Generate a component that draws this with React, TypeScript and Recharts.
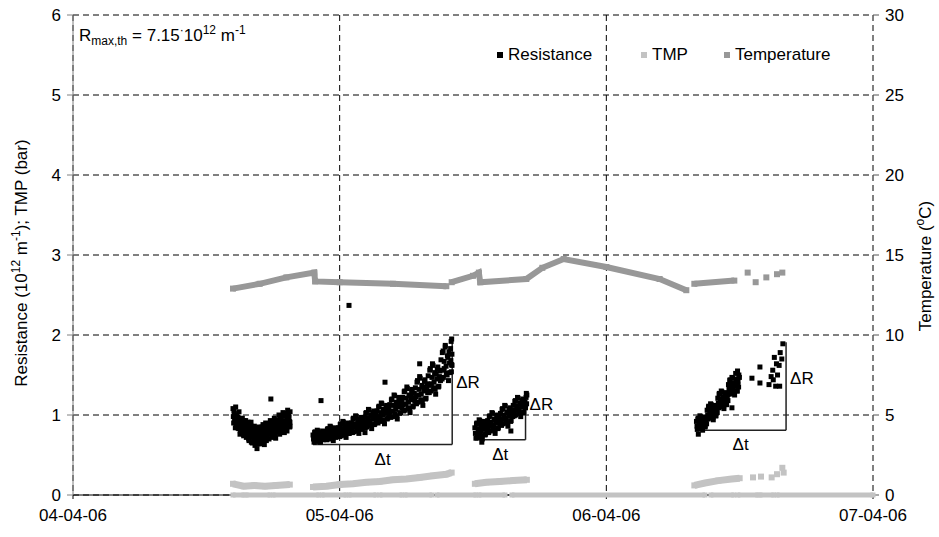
import { ScatterChart, Scatter, XAxis, YAxis, CartesianGrid, ReferenceLine, Legend } from 'recharts';

type Pt = [number, number];

// x = days since 04-04-06, y = value
const dateLabels = ['04-04-06', '05-04-06', '06-04-06', '07-04-06'];
const dayTicks = [0, 1, 2, 3];
const leftTicks = [0, 1, 2, 3, 4, 5, 6];
const rightTicks = [0, 5, 10, 15, 20, 25, 30];

// Resistance (10^12 m^-1), one array per filtration run
const resistanceRun1: Pt[] = [
  [0.600, 1.08], [0.6025, 0.90], [0.605, 1.02], [0.6075, 0.95], [0.610, 1.10], [0.6125, 0.87],
  [0.615, 0.99], [0.6175, 0.84], [0.620, 0.93], [0.6225, 1.04], [0.625, 0.88], [0.6275, 0.80],
  [0.630, 0.92], [0.6325, 0.78], [0.635, 0.96], [0.6375, 0.85], [0.640, 0.74], [0.6425, 0.89],
  [0.645, 0.80], [0.6475, 0.93], [0.650, 0.72], [0.6525, 0.86], [0.655, 0.77], [0.6575, 0.90],
  [0.660, 0.68], [0.6625, 0.84], [0.665, 0.75], [0.6675, 0.91], [0.670, 0.79], [0.6725, 0.65],
  [0.675, 0.81], [0.6775, 0.70], [0.680, 0.86], [0.6825, 0.62], [0.685, 0.76], [0.6875, 0.73],
  [0.690, 0.58], [0.6925, 0.80], [0.695, 0.69], [0.6975, 0.85], [0.700, 0.74], [0.7025, 0.64],
  [0.705, 0.82], [0.7075, 0.67], [0.710, 0.78], [0.7125, 0.88], [0.715, 0.71], [0.7175, 0.63],
  [0.720, 0.74], [0.7225, 0.90], [0.725, 0.68], [0.7275, 0.81], [0.730, 0.77], [0.7325, 0.86],
  [0.735, 0.70], [0.7375, 0.84], [0.740, 0.93], [0.7425, 0.76], [0.745, 0.81], [0.7475, 0.72],
  [0.750, 0.88], [0.7525, 0.75], [0.755, 0.96], [0.7575, 0.80], [0.760, 0.71], [0.7625, 0.85],
  [0.765, 0.79], [0.7675, 0.92], [0.770, 0.83], [0.7725, 1.00], [0.775, 0.76], [0.7775, 0.89],
  [0.780, 0.95], [0.7825, 0.81], [0.785, 0.88], [0.7875, 1.03], [0.790, 0.84], [0.7925, 0.78],
  [0.795, 0.86], [0.7975, 0.99], [0.800, 0.92], [0.8025, 0.80], [0.805, 1.06], [0.8075, 0.90],
  [0.810, 0.97], [0.8125, 0.85], [0.814, 1.04], [0.8135, 0.91],
  [0.60125, 0.98], [0.60375, 1.05], [0.60625, 0.92], [0.60875, 0.84], [0.61125, 1.00], [0.61375, 0.94],
  [0.61625, 0.90], [0.61875, 0.97], [0.62125, 0.83], [0.62375, 0.95], [0.62625, 0.76], [0.62875, 0.87],
  [0.63125, 0.84], [0.63375, 0.91], [0.63625, 0.81], [0.63875, 0.76], [0.64125, 0.93], [0.64375, 0.83],
  [0.64625, 0.87], [0.64875, 0.75], [0.65125, 0.82], [0.65375, 0.79], [0.65625, 0.91], [0.65875, 0.70],
  [0.66125, 0.80], [0.66375, 0.73], [0.66625, 0.87], [0.66875, 0.66], [0.67125, 0.76], [0.67375, 0.83],
  [0.67625, 0.72], [0.67875, 0.78], [0.68125, 0.67], [0.68375, 0.84], [0.68625, 0.70], [0.68875, 0.80],
  [0.69125, 0.74], [0.69375, 0.64], [0.69625, 0.77], [0.69875, 0.68], [0.70125, 0.82], [0.70375, 0.71],
  [0.70625, 0.75], [0.70875, 0.85], [0.71125, 0.69], [0.71375, 0.79], [0.71625, 0.74], [0.71875, 0.83],
  [0.72125, 0.79], [0.72375, 0.70], [0.72625, 0.85], [0.72875, 0.73], [0.73125, 0.89], [0.73375, 0.78],
  [0.73625, 0.82], [0.73875, 0.76], [0.74125, 0.87], [0.74375, 0.79], [0.74625, 0.92], [0.74875, 0.83],
  [0.75125, 0.79], [0.75375, 0.91], [0.75625, 0.84], [0.75875, 0.76], [0.76125, 0.89], [0.76375, 0.94],
  [0.76625, 0.86], [0.76875, 0.81], [0.77125, 0.93], [0.77375, 0.87], [0.77625, 0.96], [0.77875, 0.82],
  [0.78125, 0.89], [0.78375, 0.99], [0.78625, 0.84], [0.78875, 0.93], [0.79125, 0.87], [0.79375, 1.01],
  [0.79625, 0.92], [0.79875, 0.83], [0.80125, 1.02], [0.80375, 0.94], [0.80625, 0.88], [0.80875, 1.00],
  [0.81125, 0.92], [0.81375, 0.86],
  [0.742, 1.20], [0.930, 1.18], [1.035, 2.37],
];

const resistanceRun2: Pt[] = [
  [0.900, 0.75], [0.904, 0.66], [0.908, 0.79], [0.912, 0.71], [0.916, 0.81], [0.920, 0.68], [0.924, 0.76], [0.928, 0.66], [0.932, 0.73], [0.936, 0.80], [0.940, 0.70], [0.944, 0.78],
  [0.948, 0.79], [0.952, 0.69], [0.956, 0.83], [0.960, 0.74], [0.964, 0.86], [0.968, 0.72], [0.972, 0.81], [0.976, 0.68], [0.980, 0.77], [0.984, 0.84], [0.988, 0.73], [0.992, 0.82],
  [0.996, 0.84], [1.000, 0.73], [1.004, 0.89], [1.008, 0.79], [1.012, 0.92], [1.016, 0.76], [1.020, 0.86], [1.024, 0.72], [1.028, 0.82], [1.032, 0.90], [1.036, 0.77], [1.040, 0.87],
  [1.044, 0.90], [1.048, 0.78], [1.052, 0.96], [1.056, 0.85], [1.060, 0.99], [1.064, 0.81], [1.068, 0.92], [1.072, 0.77], [1.076, 0.88], [1.080, 0.97], [1.084, 0.83], [1.088, 0.94],
  [1.092, 0.97], [1.096, 0.84], [1.100, 1.03], [1.104, 0.91], [1.108, 1.07], [1.112, 0.88], [1.116, 1.00], [1.120, 0.83], [1.124, 0.95], [1.128, 1.05], [1.132, 0.89], [1.136, 1.01],
  [1.140, 1.05], [1.144, 0.90], [1.148, 1.11], [1.152, 0.98], [1.156, 1.15], [1.160, 0.94], [1.164, 1.07], [1.168, 0.89], [1.172, 1.02], [1.176, 1.12], [1.180, 0.96], [1.184, 1.09],
  [1.188, 1.13], [1.192, 0.97], [1.196, 1.20], [1.200, 1.05], [1.204, 1.25], [1.208, 1.01], [1.212, 1.16], [1.216, 0.95], [1.220, 1.10], [1.224, 1.22], [1.228, 1.03], [1.232, 1.17],
  [1.236, 1.22], [1.240, 1.05], [1.244, 1.30], [1.248, 1.14], [1.252, 1.35], [1.256, 1.09], [1.260, 1.25], [1.264, 1.03], [1.268, 1.19], [1.272, 1.32], [1.276, 1.11], [1.280, 1.27],
  [1.284, 1.34], [1.288, 1.14], [1.292, 1.43], [1.296, 1.25], [1.300, 1.48], [1.304, 1.19], [1.308, 1.37], [1.312, 1.12], [1.316, 1.30], [1.320, 1.44], [1.324, 1.21], [1.328, 1.39],
  [1.332, 1.49], [1.336, 1.28], [1.340, 1.58], [1.344, 1.39], [1.348, 1.64], [1.352, 1.34], [1.356, 1.53], [1.360, 1.26], [1.364, 1.45], [1.368, 1.60], [1.372, 1.36], [1.376, 1.55],
  [1.380, 1.69], [1.384, 1.45], [1.388, 1.80], [1.392, 1.58], [1.396, 1.87], [1.400, 1.52], [1.404, 1.74], [1.408, 1.43], [1.412, 1.65], [1.416, 1.83], [1.419, 1.54], [1.421, 1.76],
  [1.418, 1.92], [1.420, 1.95], [1.421, 1.62],
  [0.902, 0.70], [0.906, 0.78], [0.910, 0.67], [0.914, 0.74], [0.918, 0.80], [0.922, 0.71], [0.926, 0.67], [0.930, 0.75], [0.934, 0.78], [0.938, 0.69], [0.942, 0.74], [0.946, 0.72],
  [0.950, 0.73], [0.954, 0.82], [0.958, 0.70], [0.962, 0.78], [0.966, 0.85], [0.970, 0.75], [0.974, 0.71], [0.978, 0.80], [0.982, 0.83], [0.986, 0.72], [0.990, 0.78], [0.994, 0.76],
  [0.998, 0.78], [1.002, 0.88], [1.006, 0.74], [1.010, 0.83], [1.014, 0.91], [1.018, 0.80], [1.022, 0.75], [1.026, 0.85], [1.030, 0.89], [1.034, 0.77], [1.038, 0.84], [1.042, 0.81],
  [1.046, 0.84], [1.050, 0.95], [1.054, 0.79], [1.058, 0.89], [1.062, 0.98], [1.066, 0.86], [1.070, 0.80], [1.074, 0.91], [1.078, 0.95], [1.082, 0.82], [1.086, 0.90], [1.090, 0.87],
  [1.094, 0.90], [1.098, 1.02], [1.102, 0.85], [1.106, 0.96], [1.110, 1.06], [1.114, 0.93], [1.118, 0.87], [1.122, 0.99], [1.126, 1.03], [1.130, 0.88], [1.134, 0.97], [1.138, 0.94],
  [1.142, 0.97], [1.146, 1.10], [1.150, 0.92], [1.154, 1.03], [1.158, 1.14], [1.162, 1.00], [1.166, 0.93], [1.170, 1.06], [1.174, 1.10], [1.178, 0.95], [1.182, 1.04], [1.186, 1.01],
  [1.190, 1.04], [1.194, 1.19], [1.198, 0.98], [1.202, 1.12], [1.206, 1.24], [1.210, 1.07], [1.214, 0.99], [1.218, 1.15], [1.222, 1.20], [1.226, 1.02], [1.230, 1.12], [1.234, 1.09],
  [1.238, 1.13], [1.242, 1.29], [1.246, 1.06], [1.250, 1.21], [1.254, 1.33], [1.258, 1.16], [1.262, 1.08], [1.266, 1.24], [1.270, 1.29], [1.274, 1.10], [1.278, 1.21], [1.282, 1.17],
  [1.286, 1.23], [1.290, 1.41], [1.294, 1.16], [1.298, 1.32], [1.302, 1.46], [1.306, 1.26], [1.310, 1.17], [1.314, 1.35], [1.318, 1.42], [1.322, 1.20], [1.326, 1.33], [1.330, 1.28],
  [1.334, 1.37], [1.338, 1.56], [1.342, 1.30], [1.346, 1.47], [1.350, 1.62], [1.354, 1.41], [1.358, 1.32], [1.362, 1.51], [1.366, 1.57], [1.370, 1.35], [1.374, 1.48], [1.378, 1.43],
  [1.382, 1.56], [1.385, 1.78], [1.389, 1.47], [1.392, 1.67], [1.396, 1.85], [1.399, 1.61], [1.403, 1.50], [1.406, 1.72], [1.410, 1.79], [1.413, 1.53], [1.417, 1.68], [1.420, 1.63],
  [1.170, 1.41], [1.300, 1.64], [1.095, 0.78],
];

const resistanceRun3: Pt[] = [
  [1.507, 0.84], [1.511, 0.71], [1.515, 0.90], [1.519, 0.78], [1.523, 0.94], [1.527, 0.75], [1.531, 0.87], [1.535, 0.70], [1.539, 0.82], [1.543, 0.92], [1.547, 0.76], [1.551, 0.88],
  [1.555, 0.93], [1.559, 0.78], [1.563, 0.99], [1.567, 0.86], [1.571, 1.03], [1.575, 0.82], [1.579, 0.95], [1.583, 0.77], [1.587, 0.90], [1.591, 1.00], [1.595, 0.84], [1.599, 0.97],
  [1.603, 1.02], [1.607, 0.87], [1.611, 1.08], [1.615, 0.95], [1.619, 1.12], [1.623, 0.91], [1.627, 1.04], [1.631, 0.86], [1.635, 0.99], [1.639, 1.09], [1.643, 0.93], [1.647, 1.06],
  [1.651, 1.12], [1.655, 0.99], [1.659, 1.18], [1.663, 1.06], [1.667, 1.22], [1.671, 1.03], [1.675, 1.15], [1.679, 0.98], [1.683, 1.10], [1.687, 1.20], [1.691, 1.04], [1.695, 1.16],
  [1.509, 0.77], [1.513, 0.89], [1.517, 0.72], [1.521, 0.83], [1.525, 0.93], [1.529, 0.80], [1.533, 0.74], [1.537, 0.86], [1.541, 0.90], [1.545, 0.75], [1.549, 0.84], [1.553, 0.81],
  [1.557, 0.85], [1.561, 0.98], [1.565, 0.80], [1.569, 0.91], [1.573, 1.02], [1.577, 0.87], [1.581, 0.81], [1.585, 0.94], [1.589, 0.98], [1.593, 0.83], [1.597, 0.92], [1.601, 0.89],
  [1.605, 0.94], [1.609, 1.07], [1.613, 0.89], [1.617, 1.00], [1.621, 1.11], [1.625, 0.96], [1.629, 0.90], [1.633, 1.03], [1.637, 1.07], [1.641, 0.92], [1.645, 1.01], [1.649, 0.98],
  [1.653, 1.05], [1.657, 1.17], [1.661, 1.00], [1.665, 1.11], [1.669, 1.21], [1.673, 1.08], [1.677, 1.02], [1.681, 1.14], [1.685, 1.18], [1.689, 1.03], [1.693, 1.12], [1.697, 1.09],
  [1.699, 1.22], [1.700, 1.27], [1.701, 1.14], [1.702, 1.25], [1.533, 0.66], [1.642, 0.80],
];

const resistanceRun4: Pt[] = [
  [2.338, 0.92], [2.341, 0.82], [2.345, 0.96], [2.348, 0.87], [2.351, 0.99], [2.355, 0.85], [2.358, 0.94], [2.361, 0.81], [2.364, 0.90], [2.368, 0.97], [2.371, 0.86], [2.374, 0.95],
  [2.378, 1.06], [2.381, 0.95], [2.384, 1.11], [2.388, 1.01], [2.391, 1.14], [2.394, 0.98], [2.398, 1.08], [2.401, 0.94], [2.404, 1.04], [2.408, 1.12], [2.411, 0.99], [2.414, 1.09],
  [2.418, 1.21], [2.421, 1.09], [2.424, 1.27], [2.428, 1.16], [2.431, 1.30], [2.434, 1.12], [2.438, 1.23], [2.441, 1.08], [2.444, 1.19], [2.448, 1.28], [2.451, 1.13], [2.454, 1.25],
  [2.458, 1.38], [2.461, 1.26], [2.464, 1.44], [2.468, 1.33], [2.471, 1.47], [2.474, 1.29], [2.478, 1.40], [2.481, 1.25], [2.484, 1.36], [2.488, 1.45], [2.491, 1.30], [2.494, 1.42],
  [2.340, 0.86], [2.343, 0.95], [2.346, 0.83], [2.350, 0.91], [2.353, 0.98], [2.356, 0.88], [2.360, 0.84], [2.363, 0.93], [2.366, 0.96], [2.370, 0.85], [2.373, 0.91], [2.376, 0.89],
  [2.380, 1.00], [2.383, 1.10], [2.386, 0.96], [2.390, 1.05], [2.393, 1.13], [2.396, 1.02], [2.400, 0.97], [2.403, 1.07], [2.406, 1.11], [2.410, 0.99], [2.413, 1.06], [2.416, 1.03],
  [2.420, 1.15], [2.423, 1.26], [2.426, 1.10], [2.430, 1.20], [2.433, 1.29], [2.436, 1.17], [2.440, 1.11], [2.443, 1.22], [2.446, 1.26], [2.450, 1.13], [2.453, 1.21], [2.456, 1.18],
  [2.460, 1.32], [2.463, 1.43], [2.466, 1.27], [2.470, 1.37], [2.473, 1.46], [2.476, 1.34], [2.480, 1.28], [2.483, 1.39], [2.486, 1.43], [2.490, 1.30], [2.493, 1.38], [2.496, 1.35],
  [2.485, 1.52], [2.492, 1.55], [2.497, 1.50], [2.499, 1.47], [2.345, 0.76], [2.471, 1.09],
  [2.546, 1.46], [2.576, 1.60], [2.576, 1.40], [2.610, 1.38], [2.618, 1.48], [2.624, 1.56], [2.630, 1.72],
  [2.638, 1.64], [2.642, 1.50], [2.648, 1.62], [2.652, 1.78], [2.658, 1.70], [2.662, 1.89], [2.635, 1.36],
  [2.626, 1.44], [2.650, 1.36],
];

// TMP (bar)
const tmpRun1: Pt[] = [[0.600, 0.14], [0.640, 0.11], [0.680, 0.12], [0.720, 0.11], [0.760, 0.12], [0.813, 0.13]];
const tmpRun2: Pt[] = [
  [0.900, 0.10], [0.950, 0.11], [1.000, 0.13], [1.050, 0.14], [1.100, 0.16], [1.150, 0.17],
  [1.200, 0.19], [1.250, 0.20], [1.300, 0.22], [1.350, 0.24], [1.400, 0.26], [1.420, 0.28],
];
const tmpRun3: Pt[] = [[1.507, 0.14], [1.550, 0.16], [1.600, 0.17], [1.650, 0.18], [1.702, 0.19]];
const tmpRun4: Pt[] = [[2.330, 0.12], [2.370, 0.15], [2.420, 0.18], [2.470, 0.20], [2.500, 0.21]];
const tmpLoose: Pt[] = [[2.550, 0.22], [2.580, 0.23], [2.620, 0.22], [2.640, 0.26], [2.660, 0.34], [2.665, 0.28]];
// TMP sitting at zero between runs
const tmpIdle: Pt[][] = [
  [[0.600, 0], [0.641, 0]], [[0.649, 0], [0.739, 0]], [[0.750, 0], [0.922, 0]], [[0.934, 0], [1.024, 0]],
  [[1.035, 0], [1.136, 0]], [[1.151, 0], [1.234, 0]], [[1.245, 0], [1.346, 0]], [[1.365, 0], [1.511, 0]],
  [[1.522, 0], [1.620, 0]], [[1.646, 0], [2.370, 0]], [[2.392, 0], [2.478, 0]], [[2.493, 0], [2.568, 0]],
  [[2.576, 0], [2.628, 0]], [[2.640, 0], [3.000, 0]],
];

// Temperature (°C)
const tempPart1: Pt[] = [
  [0.600, 12.9], [0.700, 13.2], [0.800, 13.6], [0.905, 13.9], [0.908, 13.35], [1.000, 13.3],
  [1.200, 13.2], [1.400, 13.05],
];
const tempPart2: Pt[] = [
  [1.420, 13.3], [1.500, 13.7], [1.522, 13.9], [1.527, 13.3], [1.700, 13.5], [1.760, 14.2],
  [1.840, 14.75], [2.000, 14.25], [2.200, 13.5], [2.300, 12.8],
];
const tempPart3: Pt[] = [[2.330, 13.2], [2.480, 13.4]];
const tempLoose: Pt[] = [[2.530, 13.9], [2.560, 13.3], [2.600, 13.6], [2.640, 13.8], [2.660, 13.9]];

const rows = (pts: Pt[]) => pts.map(([d, v]) => ({ d, v }));

const square = (size: number, fill: string) => (p: any) => (
  <rect x={p.cx - size / 2} y={p.cy - size / 2} width={size} height={size} fill={fill} />
);

const BLACK = '#000000';
const TMP_C = '#c3c3c3';
const TEMP_C = '#989898';
const FONT = 17;

const legendItems = [
  { name: 'Resistance', color: BLACK, w: 144 },
  { name: 'TMP', color: TMP_C, w: 83 },
  { name: 'Temperature', color: TEMP_C, w: 130 },
];

function ChartLegend() {
  return (
    <div style={{ display: 'flex', fontSize: FONT, color: '#000' }}>
      {legendItems.map((it) => (
        <div key={it.name} style={{ width: it.w, display: 'flex', alignItems: 'center' }}>
          <span style={{ width: 6, height: 6, background: it.color, marginRight: 5, display: 'inline-block' }} />
          {it.name}
        </div>
      ))}
    </div>
  );
}

const deltaLabel = (value: string, position: 'right' | 'bottom', dy = 0) => ({
  value,
  position,
  fill: '#000',
  fontSize: FONT,
  offset: position === 'right' ? 4 : 8,
  dy,
});

const smallSup = { fontSize: 12, lineHeight: 0 };

export default function App() {
  return (
    <div style={{ position: 'absolute', left: 0, top: 0, width: 939, height: 537, fontFamily: '"Liberation Sans", Arial, sans-serif', background: '#fff' }}>
      <ScatterChart width={939} height={537} margin={{ top: 15, right: 16, bottom: 12, left: 15 }}>
        <CartesianGrid yAxisId="left" stroke="#000" strokeDasharray="6 4" />
        <XAxis
          dataKey="d"
          type="number"
          domain={[0, 3]}
          ticks={dayTicks}
          tickFormatter={(v: number) => dateLabels[v] ?? ''}
          height={30}
          stroke="#000"
          tick={{ fill: '#000', fontSize: FONT }}
          tickMargin={10}
          tickSize={4}
        />
        <YAxis
          yAxisId="left"
          dataKey="v"
          type="number"
          domain={[0, 6]}
          ticks={leftTicks}
          width={58}
          stroke="#808080"
          tick={{ fill: '#000', fontSize: FONT }}
          tickMargin={6}
        />
        <YAxis
          yAxisId="right"
          orientation="right"
          dataKey="v"
          type="number"
          domain={[0, 30]}
          ticks={rightTicks}
          width={50}
          stroke="#555"
          axisLine={false}
          tick={{ fill: '#000', fontSize: FONT }}
          tickMargin={6}
        />
        <Legend
          layout="horizontal"
          verticalAlign="middle"
          align="center"
          content={() => <ChartLegend />}
          wrapperStyle={{ left: 497, top: 45, width: 380 }}
        />

        {tmpIdle.map((seg, i) => (
          <Scatter key={'idle' + i} yAxisId="left" data={rows(seg)} fill={TMP_C} legendType="none" line={{ stroke: TMP_C, strokeWidth: 5 }} shape={square(5, TMP_C)} isAnimationActive={false} />
        ))}
        <Scatter name="Temperature" yAxisId="right" data={rows(tempPart1)} fill={TEMP_C} line={{ stroke: TEMP_C, strokeWidth: 6 }} shape={square(6, TEMP_C)} isAnimationActive={false} />
        <Scatter yAxisId="right" data={rows(tempPart2)} fill={TEMP_C} legendType="none" line={{ stroke: TEMP_C, strokeWidth: 6 }} shape={square(6, TEMP_C)} isAnimationActive={false} />
        <Scatter yAxisId="right" data={rows(tempPart3)} fill={TEMP_C} legendType="none" line={{ stroke: TEMP_C, strokeWidth: 6 }} shape={square(6, TEMP_C)} isAnimationActive={false} />
        <Scatter yAxisId="right" data={rows(tempLoose)} fill={TEMP_C} legendType="none" shape={square(6, TEMP_C)} isAnimationActive={false} />

        <Scatter name="TMP" yAxisId="left" data={rows(tmpRun1)} fill={TMP_C} line={{ stroke: TMP_C, strokeWidth: 7 }} shape={square(6, TMP_C)} isAnimationActive={false} />
        <Scatter yAxisId="left" data={rows(tmpRun2)} fill={TMP_C} legendType="none" line={{ stroke: TMP_C, strokeWidth: 7 }} shape={square(6, TMP_C)} isAnimationActive={false} />
        <Scatter yAxisId="left" data={rows(tmpRun3)} fill={TMP_C} legendType="none" line={{ stroke: TMP_C, strokeWidth: 7 }} shape={square(6, TMP_C)} isAnimationActive={false} />
        <Scatter yAxisId="left" data={rows(tmpRun4)} fill={TMP_C} legendType="none" line={{ stroke: TMP_C, strokeWidth: 7 }} shape={square(6, TMP_C)} isAnimationActive={false} />
        <Scatter yAxisId="left" data={rows(tmpLoose)} fill={TMP_C} legendType="none" shape={square(6, TMP_C)} isAnimationActive={false} />

        <Scatter name="Resistance" yAxisId="left" data={rows(resistanceRun1)} fill={BLACK} shape={square(5, BLACK)} isAnimationActive={false} />
        <Scatter yAxisId="left" data={rows(resistanceRun2)} fill={BLACK} legendType="none" shape={square(5, BLACK)} isAnimationActive={false} />
        <Scatter yAxisId="left" data={rows(resistanceRun3)} fill={BLACK} legendType="none" shape={square(5, BLACK)} isAnimationActive={false} />
        <Scatter yAxisId="left" data={rows(resistanceRun4)} fill={BLACK} legendType="none" shape={square(5, BLACK)} isAnimationActive={false} />

        {/* slope triangles */}
        <ReferenceLine yAxisId="left" segment={[{ x: 0.9, y: 0.63 }, { x: 1.422, y: 0.63 }]} stroke="#222" strokeWidth={1.5} label={deltaLabel('Δt', 'bottom')} />
        <ReferenceLine yAxisId="left" segment={[{ x: 1.422, y: 0.63 }, { x: 1.422, y: 1.95 }]} stroke="#222" strokeWidth={1.5} label={deltaLabel('ΔR', 'right', -10)} />
        <ReferenceLine yAxisId="left" segment={[{ x: 1.507, y: 0.69 }, { x: 1.697, y: 0.69 }]} stroke="#222" strokeWidth={1.5} label={deltaLabel('Δt', 'bottom')} />
        <ReferenceLine yAxisId="left" segment={[{ x: 1.697, y: 0.69 }, { x: 1.697, y: 1.28 }]} stroke="#222" strokeWidth={1.5} label={deltaLabel('ΔR', 'right', -12)} />
        <ReferenceLine yAxisId="left" segment={[{ x: 2.333, y: 0.81 }, { x: 2.674, y: 0.81 }]} stroke="#222" strokeWidth={1.5} label={deltaLabel('Δt', 'bottom')} />
        <ReferenceLine yAxisId="left" segment={[{ x: 2.674, y: 0.81 }, { x: 2.674, y: 1.91 }]} stroke="#222" strokeWidth={1.5} label={deltaLabel('ΔR', 'right', -8)} />
      </ScatterChart>

      <div style={{ position: 'absolute', left: 79, top: 26, fontSize: FONT, lineHeight: '20px', color: '#000', whiteSpace: 'nowrap' }}>
        R<sub style={smallSup}>max,th</sub> = 7.15<sup style={smallSup}>·</sup>10<sup style={smallSup}>12</sup> m<sup style={smallSup}>-1</sup>
      </div>

      <svg width={939} height={537} style={{ position: 'absolute', left: 0, top: 0, pointerEvents: 'none' }}>
        <text transform="translate(27,263) rotate(-90)" textAnchor="middle" fontSize={FONT} fill="#000">
          Resistance (10<tspan dy={-7} fontSize={12}>12</tspan>
          <tspan dy={7}> m</tspan>
          <tspan dy={-7} fontSize={12}>-1</tspan>
          <tspan dy={7}>); TMP (bar)</tspan>
        </text>
        <text transform="translate(931,266) rotate(-90)" textAnchor="middle" fontSize={FONT} fill="#000">
          Temperature (<tspan dy={-7} fontSize={12}>o</tspan>
          <tspan dy={7}>C)</tspan>
        </text>
      </svg>
    </div>
  );
}
